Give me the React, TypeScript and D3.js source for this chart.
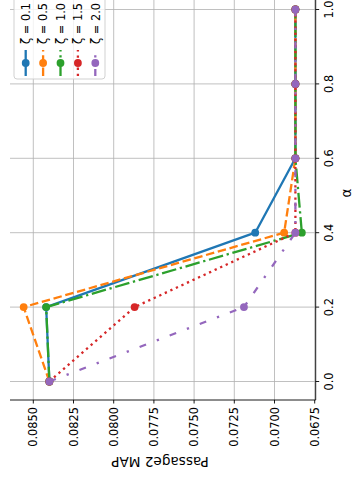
import React from "react";
import * as d3 from "d3";

// Figure is a matplotlib line plot turned 90 degrees counter-clockwise:
// alpha runs bottom -> top on the right, MAP runs right -> left on the bottom.
const alphas = [0, 0.2, 0.4, 0.6, 0.8, 1.0];
const zeta01 = [0.084, 0.0842, 0.0712, 0.0687, 0.0687, 0.0687];
const zeta05 = [0.084, 0.0856, 0.0694, 0.0687, 0.0687, 0.0687];
const zeta10 = [0.084, 0.0842, 0.0683, 0.0687, 0.0687, 0.0687];
const zeta15 = [0.084, 0.0787, 0.0687, 0.0687, 0.0687, 0.0687];
const zeta20 = [0.084, 0.0719, 0.0687, 0.0687, 0.0687, 0.0687];
const seriesLabels = ["ζ = 0.1", "ζ = 0.5", "ζ = 1.0", "ζ = 1.5", "ζ = 2.0"];
const mapTicks = [0.085, 0.0825, 0.08, 0.0775, 0.075, 0.0725, 0.07, 0.0675];
const alphaTicks = [0, 0.2, 0.4, 0.6, 0.8, 1.0];

const colors = ["#1f77b4", "#ff7f0e", "#2ca02c", "#d62728", "#9467bd"];
const dashes = ["", "8.5,3.7", "14.7,3.7,2.3,3.7", "2.3,3.8", "6.9,11.5,2.3,11.5"];

const W = 360;
const H = 489;
const fontFamily = "DejaVu Sans, sans-serif";

export default function App() {
  const series = [zeta01, zeta05, zeta10, zeta15, zeta20];

  const x = d3.scaleLinear().domain([0.085, 0.0675]).range([33.3, 314.7]);
  const y = d3.scaleLinear().domain([0, 1]).range([381.5, 9.5]);

  const left = 10;
  const right = 315.7;
  const bottom = 400;
  const top = -12;

  const line = d3
    .line<number>()
    .x((d) => x(d))
    .y((_, i) => y(alphas[i]));

  const fmt = d3.format(".4f");

  return (
    <svg
      width={W}
      height={H}
      style={{ position: "absolute", left: 0, top: 0, background: "#fff" }}
      fontFamily={fontFamily}
    >
      {/* grid */}
      {mapTicks.map((t) => (
        <line key={"gx" + t} x1={x(t)} x2={x(t)} y1={top} y2={bottom} stroke="#b0b0b0" strokeWidth={0.8} />
      ))}
      {alphaTicks.map((t) => (
        <line key={"gy" + t} x1={left} x2={right} y1={y(t)} y2={y(t)} stroke="#b0b0b0" strokeWidth={0.8} />
      ))}

      {/* series */}
      {series.map((s, i) => (
        <g key={"s" + i}>
          <path
            d={line(s) || ""}
            fill="none"
            stroke={colors[i]}
            strokeWidth={2.3}
            strokeDasharray={dashes[i] || undefined}
            strokeLinejoin="round"
          />
          {s.map((v, j) => (
            <circle key={j} cx={x(v)} cy={y(alphas[j])} r={3.9} fill={colors[i]} />
          ))}
        </g>
      ))}

      {/* spines */}
      <line x1={left} x2={right} y1={bottom} y2={bottom} stroke="#000" strokeWidth={0.9} />
      <line x1={right} x2={right} y1={top} y2={bottom} stroke="#000" strokeWidth={0.9} />

      {/* MAP axis (bottom) */}
      {mapTicks.map((t) => (
        <g key={"tx" + t}>
          <line x1={x(t)} x2={x(t)} y1={bottom} y2={bottom + 3.5} stroke="#000" strokeWidth={0.9} />
          <text
            transform={`translate(${x(t)},${bottom + 7}) rotate(-90)`}
            textAnchor="end"
            dy="0.35em"
            fontSize={11.4}
            fill="#000"
          >
            {fmt(t)}
          </text>
        </g>
      ))}
      <text
        transform={`translate(160,462) rotate(180)`}
        textAnchor="middle"
        dy="0.35em"
        fontSize={13.6}
        fill="#000"
      >
        Passage2 MAP
      </text>

      {/* alpha axis (right) */}
      {alphaTicks.map((t) => (
        <g key={"ty" + t}>
          <line x1={right} x2={right + 3.5} y1={y(t)} y2={y(t)} stroke="#000" strokeWidth={0.9} />
          <text
            transform={`translate(332.5,${y(t)}) rotate(-90)`}
            textAnchor="middle"
            fontSize={11.4}
            fill="#000"
          >
            {d3.format(".1f")(t)}
          </text>
        </g>
      ))}
      <text
        transform={`translate(351,193) rotate(-90)`}
        textAnchor="middle"
        fontSize={13.6}
        fill="#000"
      >
        α
      </text>

      {/* legend */}
      <rect x={14} y={-6} width={91} height={85} rx={3} fill="#fff" fillOpacity={0.8} stroke="#cccccc" strokeWidth={0.9} />
      {seriesLabels.map((lab, i) => {
        const cx = 25.7 + i * 17.4;
        return (
          <g key={"lg" + i}>
            <line
              x1={cx}
              x2={cx}
              y1={76}
              y2={50}
              stroke={colors[i]}
              strokeWidth={2.3}
              strokeDasharray={dashes[i] || undefined}
            />
            <circle cx={cx} cy={63} r={3.9} fill={colors[i]} />
            <text
              transform={`translate(${cx + 4.2},44) rotate(-90)`}
              textAnchor="start"
              fontSize={11.4}
              fill="#000"
            >
              {lab}
            </text>
          </g>
        );
      })}
    </svg>
  );
}
